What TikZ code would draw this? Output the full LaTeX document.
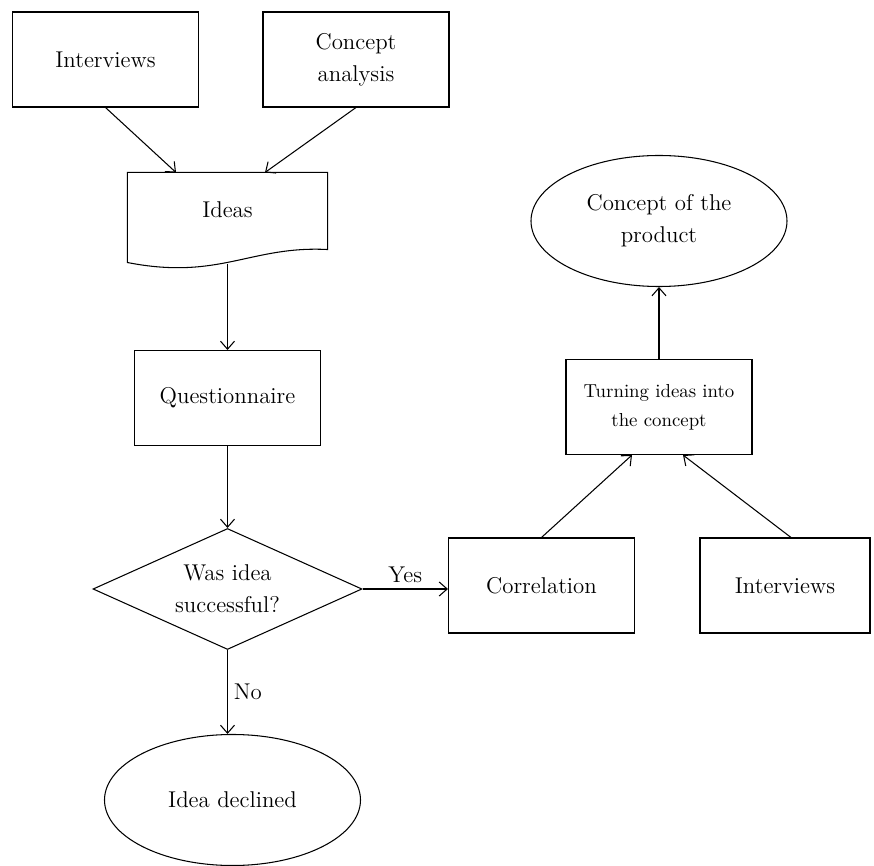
\documentclass[tikz,border=0pt]{standalone}
\usepackage{tikz}
\usetikzlibrary{shapes.geometric, arrows.meta}

\begin{document}
\begin{tikzpicture}[node distance=3cm, line width=0.6pt,
		>={Straight Barb[length=1.6mm, width=2.8mm]},
		every node/.style={font=\fontsize{13}{18.2}\selectfont},
		box/.style={draw, align=center, minimum width=3.72cm, minimum height=1.9cm},
		docbox/.style={align=center, minimum width=3.98cm, minimum height=1.48cm},
		oval/.style={ellipse, draw, align=center, minimum width=5.12cm, minimum height=2.62cm},
		decision/.style={diamond, draw, align=center, aspect=2.22, inner sep=1pt, minimum width=5.38cm, minimum height=2.42cm}]
			\useasboundingbox (-2.11,1.19) rectangle (15.37,-16.13);

			\node [box] (interv) {Interviews};
			\node [box, right of=interv, node distance=5.01cm] (concana) {Concept\\analysis};
			\node [docbox, below of=interv, node distance=3.01cm, xshift=2.44cm] (ideas) {Ideas};
			\node [box, below of=ideas, node distance=3.76cm] (quest) {Questionnaire};
			\node [decision, below of=quest, node distance=3.82cm] (success) {Was idea\\successful?};
			\node [oval, below of=success, node distance=4.22cm, xshift=.1cm] (declined) {Idea declined};
			\node [box, right of=success, node distance=6.28cm, yshift=.07cm] (correl) {Correlation};
			\node [box, right of=correl, node distance=4.87cm, minimum width=3.4cm] (interv2) {Interviews};
			\node [box, above of=correl, node distance=3.57cm, xshift=2.35cm, font=\fontsize{10.7}{16.5}\selectfont] (turning) {Turning ideas into\\the concept};
			\node [oval, above of=turning, node distance=3.72cm] (product) {Concept of the\\product};

			% wavy bottom of the document shape
			\draw (ideas.north west) -- (ideas.north east) -- ([yshift=-.04cm]ideas.south east)
				.. controls +(-1.54,.08) and +(1.84,-.36) .. ([yshift=-.3cm]ideas.south west) -- cycle;
			\coordinate (ideasend) at ([yshift=-.32cm]ideas.south);

			\draw [->] (interv.south) -- ([xshift=-1.03cm]ideas.north);
			\draw [->] (concana.south) -- ([xshift=.75cm]ideas.north);
			\draw [->] (ideasend) -- (quest.north);
			\draw [->] (quest.south) -- (success.north);
			\draw [->] (success.east) -- node [above] {Yes} (success.east -| correl.west);
			\draw [->] (success.south) -- node [right] {No} (success.south |- declined.north);
			\draw [->] (correl.north) -- ([xshift=-.54cm]turning.south);
			\draw [->] ([xshift=.12cm]interv2.north) -- ([xshift=.48cm]turning.south);
			\draw [->] (turning.north) -- (product.south);
		\end{tikzpicture}
\end{document}
